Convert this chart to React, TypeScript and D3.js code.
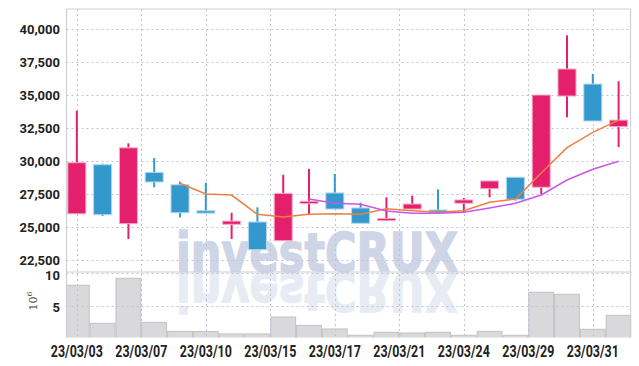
import React, { useRef, useEffect } from 'react';
import * as d3 from 'd3';

// daily candles, 23/03/02 .. 23/03/31 (trading days)
const openP = [26000, 29720, 25250, 29140, 28200, 26230, 25200, 25380, 23960, 26770, 27580, 26440, 25480, 26360, 26290, 26800, 27900, 28770, 28010, 34920, 35830, 32600];
const closeP = [29870, 25930, 31000, 28410, 26080, 26050, 25450, 23280, 27550, 26950, 26360, 25280, 25650, 26740, 26110, 27050, 28490, 27100, 35000, 36970, 33030, 33100];
const highP = [33810, 29800, 31340, 30230, 28430, 28350, 26080, 26490, 28960, 29400, 29020, 26840, 27250, 27370, 27850, 27200, 28490, 28770, 35000, 39520, 36590, 36040];
const lowP = [26000, 25830, 24090, 28010, 25730, 26040, 24090, 23280, 23960, 25910, 26360, 25280, 25480, 26360, 26050, 26090, 27250, 27000, 27500, 33310, 33030, 31060];
// volume, x10^6
const volume = [8.11, 2.40, 9.16, 2.55, 1.20, 1.17, 0.80, 0.80, 3.35, 2.10, 1.55, 0.60, 1.05, 0.95, 1.05, 0.60, 1.20, 0.60, 7.06, 6.76, 1.50, 3.60];
// moving averages
const ma5 = [null, null, null, null, 28310, 27500, 27420, 25960, 25760, 25960, 26000, 25960, 26390, 26235, 26110, 26235, 26870, 27120, 29090, 31010, 32170, 33100];
const ma10 = [null, null, null, null, null, null, null, null, null, 27120, 26795, 26720, 26210, 26040, 26040, 26110, 26440, 26795, 27424, 28560, 29370, 29980];

const priceTicks = [22500, 25000, 27500, 30000, 32500, 35000, 37500, 40000];
const volTicks = [5, 10];
const dateLabels = ['23/03/03', '23/03/07', '23/03/10', '23/03/15', '23/03/17', '23/03/21', '23/03/24', '23/03/29', '23/03/31'];

const W = 639, H = 366;

export default function App() {
  const svgRef = useRef<SVGSVGElement>(null);

  useEffect(() => {
    document.body.style.margin = '0';
    if (!svgRef.current) return;
    const svg = d3.select(svgRef.current);
    svg.selectAll('*').remove();

    const left = 66.5, right = 631.5;
    const top = 9, sep = 272, bottom = 337.5;

    const x = d3.scaleLinear().domain([-0.4, 21.5]).range([left, right]);
    const step = x(1) - x(0);
    const y = d3.scaleLinear().domain([22500, 40000]).range([260, 29]);
    const yv = d3.scaleLinear().domain([0, 10]).range([339.3, 272.7]);

    const tickFont = 'Roboto, "DejaVu Sans", sans-serif';
    const gridColor = '#bcc4da';
    const up = '#e4206c', down = '#3399cc';

    const defs = svg.append('defs');
    defs.append('clipPath').attr('id', 'pclip')
      .append('rect').attr('x', left).attr('y', top).attr('width', right - left).attr('height', bottom - top);

    const n = closeP.length;
    const idx = d3.range(n);

    // volume bars
    svg.append('g').attr('clip-path', 'url(#pclip)')
      .selectAll('rect').data(idx).join('rect')
      .attr('x', i => x(i) - step / 2 + 0.5)
      .attr('width', step - 1)
      .attr('y', i => yv(volume[i]))
      .attr('height', i => yv(0) - yv(volume[i]))
      .attr('fill', '#d9d9db')
      .attr('stroke', '#c2c2c6')
      .attr('stroke-width', 1);

    // watermark + its reflection (a <use> of the same text)
    const wm = svg.append('g');
    wm.append('text')
      .attr('id', 'wmark')
      .attr('x', 176).attr('y', 271)
      .attr('textLength', 282).attr('lengthAdjust', 'spacingAndGlyphs')
      .attr('font-family', '"DejaVu Sans", "Liberation Sans", sans-serif')
      .attr('font-weight', 'bold').attr('font-size', 53)
      .attr('fill', '#c6cee2').attr('stroke', '#c6cee2').attr('stroke-width', 1.5)
      .attr('opacity', 0.85)
      .text('investCRUX');
    wm.append('use')
      .attr('href', '#wmark')
      .attr('transform', 'translate(0,544) scale(1,-1)')
      .attr('opacity', 0.45);

    // grid
    const grid = svg.append('g').attr('stroke', gridColor).attr('stroke-dasharray', '2,3').attr('stroke-width', 1);
    priceTicks.forEach(t => {
      grid.append('line').attr('x1', left).attr('x2', right)
        .attr('y1', Math.round(y(t)) + 0.5).attr('y2', Math.round(y(t)) + 0.5);
    });
    volTicks.forEach(t => {
      grid.append('line').attr('x1', left).attr('x2', right)
        .attr('y1', Math.round(yv(t)) + 0.5).attr('y2', Math.round(yv(t)) + 0.5);
    });
    dateLabels.forEach((_, k) => {
      const xx = Math.round(x(k * 2.5)) + 0.5;
      grid.append('line').attr('x1', xx).attr('x2', xx).attr('y1', top).attr('y2', bottom);
    });

    // frame
    const frame = svg.append('g').attr('stroke', '#cfcfd4').attr('stroke-width', 1.2).attr('fill', 'none');
    frame.append('line').attr('x1', left).attr('x2', right).attr('y1', top).attr('y2', top);
    frame.append('line').attr('x1', left).attr('x2', right).attr('y1', sep).attr('y2', sep);
    frame.append('line').attr('x1', left).attr('x2', left).attr('y1', top).attr('y2', bottom);
    frame.append('line').attr('x1', right - 1).attr('x2', right - 1).attr('y1', top).attr('y2', bottom);

    // candles
    const bw = step * 0.7;
    const cg = svg.append('g').selectAll('g').data(idx).join('g');
    cg.append('line')
      .attr('x1', i => x(i)).attr('x2', i => x(i))
      .attr('y1', i => y(highP[i])).attr('y2', i => y(lowP[i]))
      .attr('stroke', i => (closeP[i] >= openP[i] ? up : down))
      .attr('stroke-width', 2);
    cg.append('rect')
      .attr('x', i => x(i) - bw / 2)
      .attr('width', bw)
      .attr('y', i => y(Math.max(openP[i], closeP[i])))
      .attr('height', i => Math.max(2, Math.abs(y(openP[i]) - y(closeP[i]))))
      .attr('fill', i => (closeP[i] >= openP[i] ? up : down))
      .attr('stroke', i => (closeP[i] >= openP[i] ? '#f6b0cb' : '#b4d8ee'))
      .attr('stroke-width', 1);

    // moving average lines
    const maLine = d3.line<number | null>()
      .defined(d => d !== null)
      .x((_, i) => x(i))
      .y(d => y(d as number));
    svg.append('path').datum(ma5).attr('d', maLine)
      .attr('fill', 'none').attr('stroke', '#f08040').attr('stroke-width', 1.5);
    svg.append('path').datum(ma10).attr('d', maLine)
      .attr('fill', 'none').attr('stroke', '#c955ee').attr('stroke-width', 1.5);

    // y axis labels
    const fmt = d3.format(',');
    svg.append('g').selectAll('text').data(priceTicks).join('text')
      .attr('x', 60).attr('y', d => y(d)).attr('dy', '0.35em')
      .attr('text-anchor', 'end')
      .attr('font-family', tickFont).attr('font-weight', 'bold')
      .attr('font-size', 13)
      .attr('fill', '#222')
      .text(d => fmt(d));
    svg.append('g').selectAll('text').data(volTicks).join('text')
      .attr('x', 60).attr('y', d => yv(d) + (d === 10 ? 3 : 1)).attr('dy', '0.35em')
      .attr('text-anchor', 'end')
      .attr('font-family', tickFont).attr('font-weight', 'bold')
      .attr('font-size', 13)
      .attr('fill', '#222')
      .text(d => String(d));

    // 10^6 unit label
    const unit = svg.append('text')
      .attr('transform', 'translate(37,301) rotate(-90)')
      .attr('text-anchor', 'middle')
      .attr('font-family', '"DejaVu Serif", serif')
      .attr('font-size', 11).attr('fill', '#444');
    unit.append('tspan').text('10');
    unit.append('tspan').attr('dy', -5).attr('font-size', 8).text('6');

    // date labels
    svg.append('g').selectAll('text').data(dateLabels).join('text')
      .attr('x', (_, k) => x(k * 2.5))
      .attr('y', 357)
      .attr('text-anchor', 'middle')
      .attr('textLength', 52).attr('lengthAdjust', 'spacingAndGlyphs')
      .attr('font-family', tickFont).attr('font-weight', 'bold')
      .attr('font-size', 16.5)
      .attr('fill', '#222')
      .text(d => d);
  }, []);

  return (
    <svg ref={svgRef} width={W} height={H} style={{ display: 'block', background: '#fff' }} />
  );
}
